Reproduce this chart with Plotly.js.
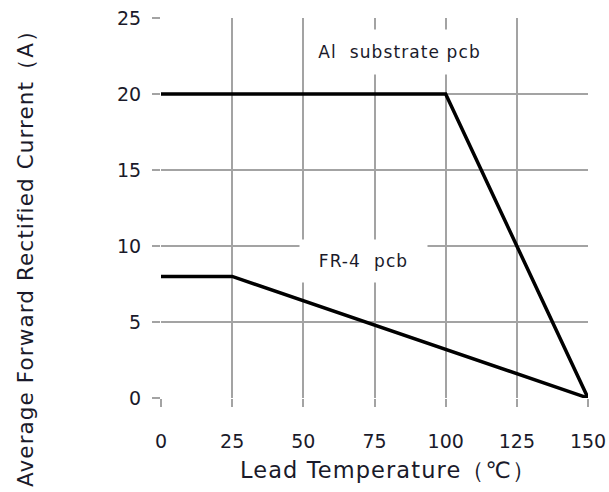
<!DOCTYPE html>
<html><head><meta charset="utf-8">
<script src="https://cdn.plot.ly/plotly-3.0.1.min.js"></script>
<style>body{margin:0;background:#fff}
.annotation-text{letter-spacing:1.1px}</style></head>
<body><div id="chart" style="width:609px;height:492px"></div>
<script>
const alTemp = [0, 100, 150];
const alCurrent = [20, 20, 0];
const fr4Temp = [0, 25, 150];
const fr4Current = [8, 8, 0];
const xTicks = [0, 25, 50, 75, 100, 125, 150];
const yTicks = [0, 5, 10, 15, 20, 25];
const xTitle = 'Lead Temperature（℃）';
const yTitle = 'Average Forward Rectified Current（A）';
const labels = [
  {x: 83.9, y: 22.76, text: 'Al  substrate pcb', w: 175, h: 42},
  {x: 71, y: 9.0, text: 'FR-4  pcb', w: 125, h: 40}
];
const font = '"DejaVu Sans", Verdana, sans-serif';
const traces = [
  {x: alTemp, y: alCurrent, mode: 'lines', line: {color: '#000', width: 3.5}, hoverinfo: 'none'},
  {x: fr4Temp, y: fr4Current, mode: 'lines', line: {color: '#000', width: 3.5}, hoverinfo: 'none'}
];
const ann = labels.map(l => ({x: l.x, y: l.y, xref: 'x', yref: 'y', text: l.text, showarrow: false,
    bgcolor: '#fff', width: l.w, height: l.h, font: {size: 17, family: font, color: '#1a1a2a'}}));
ann.push({xref: 'paper', yref: 'paper', x: 0.532, y: -0.189, xanchor: 'center', yanchor: 'middle',
  text: xTitle, showarrow: false, font: {size: 22.5, family: font, color: '#1a1a2a'}});
ann.push({xref: 'paper', yref: 'paper', x: -0.316, y: 0.3816, xanchor: 'center', yanchor: 'middle',
  textangle: -90, text: yTitle, showarrow: false, font: {size: 21.5, family: font, color: '#1a1a2a'}});
const layout = {
  width: 609, height: 492,
  margin: {l: 161, r: 21, t: 18, b: 94},
  showlegend: false,
  paper_bgcolor: '#fff', plot_bgcolor: '#fff',
  font: {family: font, color: '#1a1a2a', size: 19},
  xaxis: {
    range: [0, 150], tickvals: xTicks, ticktext: xTicks.map(String),
    showgrid: true, gridcolor: '#a3a3a3', gridwidth: 2,
    zeroline: false, showline: false,
    ticks: 'outside', ticklen: 8, tickwidth: 2, tickcolor: '#a3a3a3',
    ticklabelstandoff: 18
  },
  yaxis: {
    range: [0, 25], tickvals: yTicks, ticktext: yTicks.map(String),
    showgrid: true, gridcolor: '#a3a3a3', gridwidth: 2,
    zeroline: false, showline: false,
    ticks: 'outside', ticklen: 8, tickwidth: 2, tickcolor: '#a3a3a3',
    ticklabelstandoff: 7
  },
  annotations: ann
};
Plotly.newPlot('chart', traces, layout, {displayModeBar: false, staticPlot: true});
</script></body></html>
